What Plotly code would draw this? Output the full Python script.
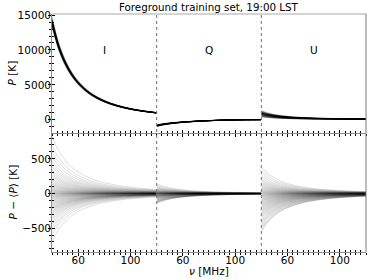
import plotly.graph_objects as go

# ---------------- data ----------------
NU = [40, 45, 50, 55, 60, 65, 70, 75, 80, 85, 90, 95, 100, 105, 110, 115, 120]  # MHz

# ensemble-mean spectra [K]
I_MEAN = [14000, 10550, 8200, 6520, 5290, 4370, 3650, 3100, 2650, 2290, 2000,
          1760, 1550, 1380, 1235, 1110, 1000]
Q_MEAN = [-830, -640, -510, -410, -330, -265, -210, -160, -120, -85, -55,
          -30, -10, 5, 15, 20, 25]
U_MEAN = [950, 720, 560, 450, 370, 310, 265, 230, 200, 180, 165,
          150, 140, 130, 122, 116, 110]

# relative fall-off of the deviations from the mean (1 at 40 MHz)
DEV_PROFILE = [1.0, 0.754, 0.585, 0.466, 0.378, 0.312, 0.261, 0.221, 0.190,
               0.164, 0.143, 0.125, 0.111, 0.099, 0.088, 0.079, 0.072]

# deviation of each training spectrum at 40 MHz [K]
I_DEV = [820, 690, 600, 530, 470, 420, 380, 340, 305, 275, 250, 225, 200, 180,
         160, 140, 125, 110, 95, 80, 68, 55, 45, 35, 25, 15, 8, 0, -8, -15, -25,
         -35, -45, -55, -65, -78, -90, -105, -120, -135, -150, -165, -180, -195,
         -210, -225, -240, -255, -270, -290, -310, -330, -355, -380, -410, -445,
         -490, -540, -600, -690]
Q_DEV = [140, 118, 100, 88, 78, 70, 62, 55, 49, 44, 39, 35, 31, 27, 24, 21, 18,
         15, 13, 11, 9, 7, 5, 3, 2, 0, -2, -4, -6, -8, -10, -12, -14, -17, -20,
         -23, -26, -29, -32, -35, -38, -41, -45, -49, -53, -57, -62, -67, -72,
         -78, -84, -90, -96, -102, -108, -114, -120, -126, -132, -140]
U_DEV = [380, 330, 290, 255, 225, 200, 180, 160, 142, 126, 112, 98, 86, 74, 63,
         52, 42, 33, 24, 16, 8, 0, -8, -16, -24, -32, -40, -50, -60, -70, -80,
         -90, -100, -110, -122, -134, -146, -158, -170, -182, -195, -208, -222,
         -236, -250, -265, -280, -296, -312, -330, -350, -370, -390, -410, -430,
         -455, -480, -505, -530, -550]

STOKES = ["I", "Q", "U"]
MEANS = [I_MEAN, Q_MEAN, U_MEAN]
DEVS = [I_DEV, Q_DEV, U_DEV]

TITLE = "Foreground training set, 19:00 LST"
X_TICKS = [60, 100]
TOP_TICKS = [0, 5000, 10000, 15000]
BOT_TICKS = [-500, 0, 500]

# ---------------- figure ----------------
FONT = "DejaVu Sans"
SPINE = "#8c8c8c"
LINE = "rgba(0,0,0,0.13)"

fig = go.Figure()

for col in range(3):
    mean = MEANS[col]
    for a in DEVS[col]:
        dev = [a * p for p in DEV_PROFILE]
        full = [m + d for m, d in zip(mean, dev)]
        fig.add_trace(go.Scatter(x=NU, y=full, mode="lines",
                                 line=dict(color=LINE, width=1, shape="spline"),
                                 xaxis=f"x{col + 1}", yaxis=f"y{col + 1}",
                                 showlegend=False, hoverinfo="skip"))
        fig.add_trace(go.Scatter(x=NU, y=dev, mode="lines",
                                 line=dict(color=LINE, width=1, shape="spline"),
                                 xaxis=f"x{col + 4}", yaxis=f"y{col + 4}",
                                 showlegend=False, hoverinfo="skip"))

# dummy traces so the overlay (inward-tick) axes are drawn
for j in range(7, 13):
    fig.add_trace(go.Scatter(x=[None], y=[None], xaxis=f"x{j}", yaxis=f"y{j - 6}",
                             showlegend=False, hoverinfo="skip"))
fig.add_trace(go.Scatter(x=[None], y=[None], xaxis="x", yaxis="y7",
                         showlegend=False, hoverinfo="skip"))
fig.add_trace(go.Scatter(x=[None], y=[None], xaxis="x4", yaxis="y8",
                         showlegend=False, hoverinfo="skip"))

X_RANGE = [40, 120]
TOP_RANGE = [-1890, 15150]
BOT_RANGE = [-845, 873]
xdoms = [[0, 1 / 3], [1 / 3, 2 / 3], [2 / 3, 1]]
ydoms = [[0.5, 1], [0, 0.5]]
tickfont = dict(family=FONT, size=10.5, color="black")


def minus(v):
    return str(v).replace("-", "\u2212")


layout = {}
for k in range(6):
    row, col = divmod(k, 3)
    n = k + 1
    # main axis: spine + outward half of the ticks
    xa = dict(domain=xdoms[col], anchor=f"y{n}", range=X_RANGE, automargin=False,
              tickmode="array", tickvals=X_TICKS, ticks="outside", ticklen=3,
              tickcolor="black", tickwidth=1,
              minor=dict(dtick=4, tick0=40, ticks="outside", ticklen=2,
                         tickcolor="black", tickwidth=1),
              showticklabels=False,
              showline=True, linecolor=SPINE, linewidth=1,
              showgrid=False, zeroline=False, fixedrange=True)
    tv = TOP_TICKS if row == 0 else BOT_TICKS
    ya = dict(domain=ydoms[row], anchor=f"x{n}", automargin=False,
              range=TOP_RANGE if row == 0 else BOT_RANGE,
              showgrid=False, zeroline=False, fixedrange=True, showline=False,
              showticklabels=False)
    if col == 0:
        ya.update(tickmode="array", tickvals=tv,
                  ticks="outside", ticklen=3, tickcolor="black", tickwidth=1,
                  minor=dict(dtick=1000 if row == 0 else 100, tick0=0,
                             ticks="outside", ticklen=2, tickcolor="black",
                             tickwidth=1),
                  showline=True, linecolor=SPINE, linewidth=1)
    else:
        ya.update(ticks="")
    layout[f"xaxis{n}"] = xa
    layout[f"yaxis{n}"] = ya
    # overlay axis: inward half of the ticks + tick labels
    layout[f"xaxis{n + 6}"] = dict(
        overlaying=f"x{n}" if n > 1 else "x", anchor=f"y{n}", range=X_RANGE,
        automargin=False, tickmode="array", tickvals=X_TICKS,
        ticktext=[str(v) for v in X_TICKS], ticks="inside",
        ticklen=3, tickcolor="black", tickwidth=1,
        minor=dict(dtick=4, tick0=40, ticks="inside", ticklen=2,
                   tickcolor="black", tickwidth=1),
        showticklabels=(row == 1), tickfont=tickfont,
        showline=False, showgrid=False, zeroline=False,
        fixedrange=True, side="bottom")

for j, (base, xa_, rng, tv, md) in enumerate([
        ("y", "x", TOP_RANGE, TOP_TICKS, 1000),
        ("y4", "x4", BOT_RANGE, BOT_TICKS, 100)]):
    layout[f"yaxis{7 + j}"] = dict(
        overlaying=base, anchor=xa_, range=rng, side="left", automargin=False,
        tickmode="array", tickvals=tv, ticktext=[minus(v) for v in tv],
        ticks="inside", ticklen=3, tickcolor="black", tickwidth=1,
        minor=dict(dtick=md, tick0=0, ticks="inside", ticklen=2,
                   tickcolor="black", tickwidth=1),
        showticklabels=True, tickfont=tickfont,
        showline=False, showgrid=False, zeroline=False, fixedrange=True)

shapes = [
    dict(type="line", xref="paper", yref="paper", x0=0, x1=1, y0=1, y1=1,
         line=dict(color="#a8a8a8", width=1), layer="above"),
    dict(type="line", xref="paper", yref="paper", x0=1, x1=1, y0=0, y1=1,
         line=dict(color="#7a7a7a", width=1), layer="above"),
]
for xb in (1 / 3, 2 / 3):
    shapes.append(dict(type="line", xref="paper", yref="paper", x0=xb, x1=xb,
                       y0=0, y1=1, line=dict(color="#707070", width=1, dash="dot"),
                       layer="above"))

annotations = [
    dict(text=TITLE, xref="paper", yref="paper", x=0.5, y=1, yanchor="bottom",
         yshift=-1, showarrow=False, font=dict(family=FONT, size=10.3, color="black")),
    dict(text="<i>ν</i> [MHz]", xref="paper", yref="paper", x=0.5, y=0,
         yanchor="middle", yshift=-19, showarrow=False,
         font=dict(family=FONT, size=10.5, color="black")),
    dict(text="<i>P</i> [K]", xref="paper", yref="paper", x=0, y=0.75,
         xanchor="center", yanchor="middle", xshift=-41, textangle=-90,
         showarrow=False, font=dict(family=FONT, size=10.5, color="black")),
    dict(text="<i>P</i> − ⟨<i>P</i>⟩ [K]", xref="paper", yref="paper", x=0, y=0.25,
         xanchor="center", yanchor="middle", xshift=-40, textangle=-90,
         showarrow=False, font=dict(family=FONT, size=10.5, color="black")),
]
for col, name in enumerate(STOKES):
    annotations.append(dict(text=name, xref=f"x{col + 1}", yref=f"y{col + 1}",
                            x=80, y=10000, showarrow=False,
                            font=dict(family=FONT, size=10.5, color="black")))

fig.update_layout(
    template="none",
    width=374, height=280,
    margin=dict(l=52, r=8, t=14, b=28, pad=0),
    paper_bgcolor="white", plot_bgcolor="white",
    shapes=shapes, annotations=annotations,
    font=dict(family=FONT, size=10.5, color="black"),
    **layout,
)

fig.write_html("out.html", config=dict(displayModeBar=False),
               post_script="document.body.style.margin='0';"
                           "document.body.style.overflow='hidden';")
